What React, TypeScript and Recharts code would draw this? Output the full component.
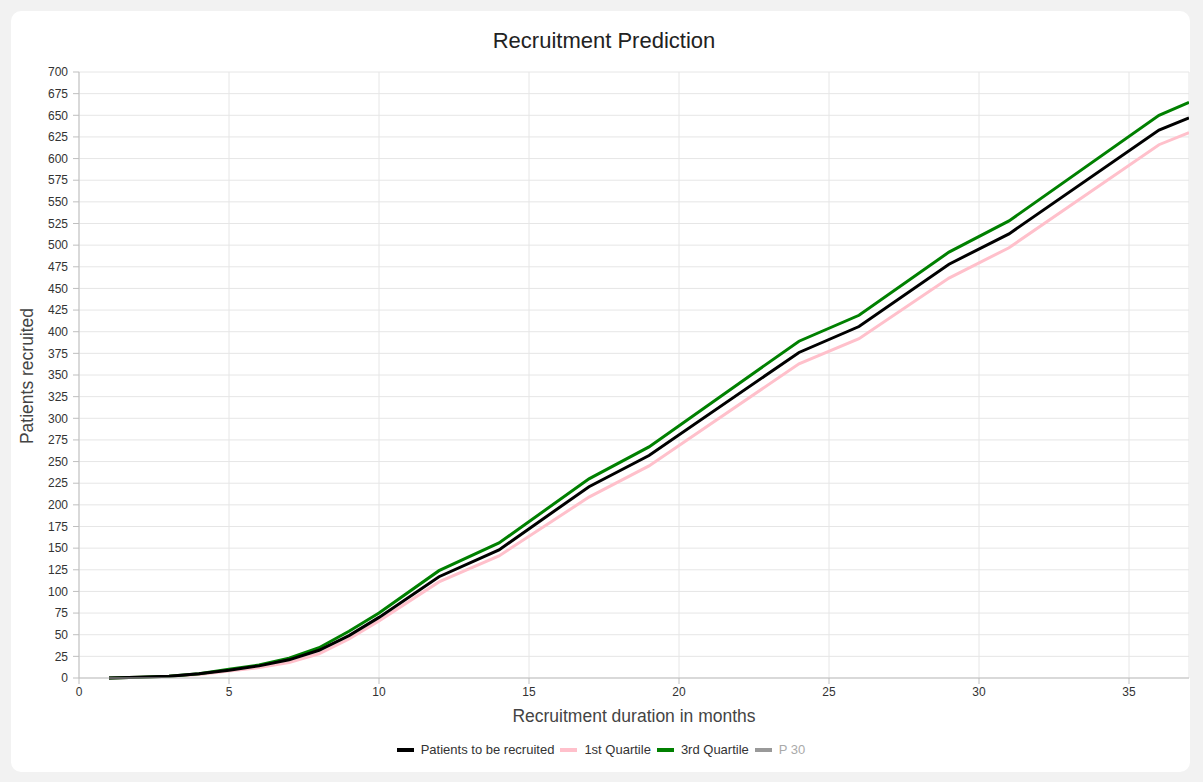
import { LineChart, Line, XAxis, YAxis, CartesianGrid } from "recharts";

const months = [1, 2, 3, 4, 5, 6, 7, 8, 9, 10, 12, 14, 17, 19, 24, 26, 29, 31, 36, 37];
const expected = [0, 1, 2, 5, 9, 14, 21, 32, 49, 70, 117, 148, 221, 257, 376, 406, 478, 513, 633, 647];
const firstQuartile = [0, 1, 2, 4, 8, 12, 18, 28, 45, 66, 111, 141, 209, 245, 363, 392, 462, 497, 616, 630];
const thirdQuartile = [0, 1, 2, 5, 10, 15, 23, 35, 54, 75, 124, 156, 230, 267, 389, 419, 492, 528, 650, 665];

const xTicks = [0, 5, 10, 15, 20, 25, 30, 35];
const yTicks = Array.from({ length: 29 }, (_, i) => i * 25);

const legendItems = [
  { label: "Patients to be recruited", color: "#000000", hidden: false },
  { label: "1st Quartile", color: "#ffc0cb", hidden: false },
  { label: "3rd Quartile", color: "#008000", hidden: false },
  { label: "P 30", color: "#999999", hidden: true },
];

const FONT = "'Liberation Sans', Arial, sans-serif";

export default function App() {
  const data = months.map((m, i) => ({
    month: m,
    expected: expected[i],
    q1: firstQuartile[i],
    q3: thirdQuartile[i],
  }));

  return (
    <div
      style={{
        position: "absolute",
        left: 0,
        top: 0,
        width: 1203,
        height: 782,
        background: "#f2f2f2",
        fontFamily: FONT,
      }}
    >
      <div
        style={{
          position: "absolute",
          left: 11,
          top: 11,
          width: 1179,
          height: 761,
          background: "#ffffff",
          borderRadius: 10,
        }}
      />
      <div
        style={{
          position: "absolute",
          left: 0,
          width: 1208,
          top: 28,
          textAlign: "center",
          fontSize: 22,
          color: "#222",
        }}
      >
        Recruitment Prediction
      </div>

      <div style={{ position: "absolute", left: 0, top: 0 }}>
        <LineChart
          width={1203}
          height={782}
          data={data}
          margin={{ top: 72, right: 14, bottom: 74, left: 29 }}
        >
          <CartesianGrid stroke="#e6e6e6" strokeWidth={1} />
          <XAxis
            dataKey="month"
            type="number"
            domain={[0, 37]}
            ticks={xTicks}
            height={30}
            tickSize={6}
            tickMargin={3}
            stroke="#bfbfbf"
            tick={{ fill: "#333", fontSize: 12, fontFamily: FONT }}
            allowDataOverflow
          />
          <YAxis
            type="number"
            domain={[0, 700]}
            ticks={yTicks}
            interval={0}
            width={50}
            tickSize={6}
            tickMargin={5}
            stroke="#bfbfbf"
            tick={{ fill: "#333", fontSize: 12, fontFamily: FONT }}
          />
          <Line
            dataKey="q1"
            type="linear"
            stroke="#ffc0cb"
            strokeWidth={3}
            dot={false}
            isAnimationActive={false}
          />
          <Line
            dataKey="q3"
            type="linear"
            stroke="#008000"
            strokeWidth={3}
            dot={false}
            isAnimationActive={false}
          />
          <Line
            dataKey="expected"
            type="linear"
            stroke="#000000"
            strokeWidth={3}
            dot={false}
            isAnimationActive={false}
          />
        </LineChart>
      </div>

      <div
        style={{
          position: "absolute",
          left: 27,
          top: 376,
          transform: "translate(-50%, -50%) rotate(-90deg)",
          whiteSpace: "nowrap",
          fontSize: 17.5,
          color: "#444",
        }}
      >
        Patients recruited
      </div>
      <div
        style={{
          position: "absolute",
          left: 79,
          width: 1110,
          top: 706,
          textAlign: "center",
          fontSize: 17.5,
          color: "#444",
        }}
      >
        Recruitment duration in months
      </div>

      <div
        style={{
          position: "absolute",
          left: 0,
          width: 1208,
          top: 742,
          display: "flex",
          justifyContent: "center",
          fontSize: 13,
        }}
      >
        {legendItems.map((it) => (
          <div key={it.label} style={{ display: "flex", alignItems: "center", marginRight: 6 }}>
            <span
              style={{
                display: "inline-block",
                width: 17,
                height: 4,
                background: it.color,
                marginRight: 7,
              }}
            />
            <span style={{ color: it.hidden ? "#aaa" : "#333" }}>{it.label}</span>
          </div>
        ))}
      </div>
    </div>
  );
}
